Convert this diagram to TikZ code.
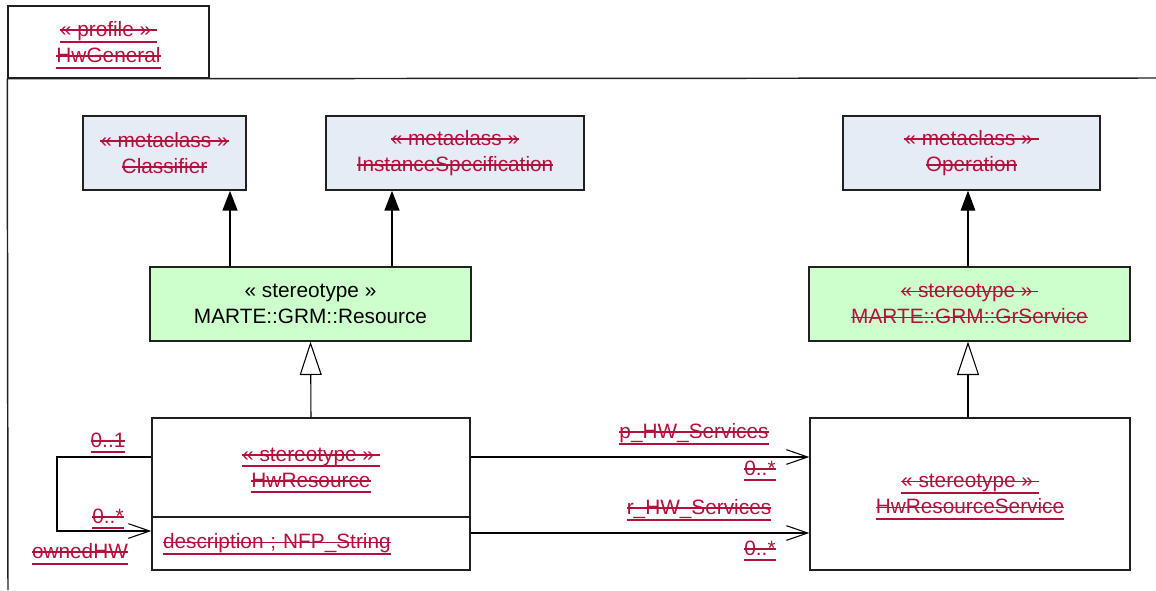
\documentclass[tikz,border=0pt]{standalone}
\usepackage{fontspec}
\setmainfont{Liberation Sans}
\usepackage{tikz}
\usetikzlibrary{arrows.meta}
\definecolor{metafill}{HTML}{E6ECF6}
\definecolor{stereofill}{HTML}{CCFFCC}
\definecolor{strikered}{HTML}{B4103C}
\definecolor{boxstroke}{HTML}{202020}

% struck-through (and underlined) labels
\newsavebox\txtbox
\newcommand\strk[1]{\sbox\txtbox{#1}\rlap{\smash{\rule[0.27em]{\wd\txtbox}{0.07em}}}\usebox\txtbox}
\newcommand\strkul[1]{\sbox\txtbox{#1}\rlap{\smash{\rule[0.27em]{\wd\txtbox}{0.07em}}}\rlap{\smash{\rule[-0.3em]{\wd\txtbox}{0.1em}}}\usebox\txtbox}

\begin{document}
\begin{tikzpicture}[
  x=0.75pt,
  y=-0.75pt,
  every node/.style={
    rectangle,
    align=center,
    inner sep=2pt,
    font=\fontsize{15.6}{19.5}\selectfont
  },
  frameline/.style={
    draw=boxstroke,
    line width=1.1pt
  },
  metaclass/.style={
    draw=boxstroke,
    fill=metafill,
    line width=1pt,
    minimum height=55.5pt,
    text=strikered
  },
  stereo/.style={
    draw=boxstroke,
    fill=stereofill,
    line width=1pt,
    minimum width=240.75pt,
    minimum height=55.5pt
  },
  classbox/.style={
    draw=boxstroke,
    fill=white,
    line width=1pt,
    minimum width=238.5pt,
    text=strikered
  },
  rolelabel/.style={
    text=strikered
  },
  extension/.style={
    -{Triangle[length=15pt,width=11pt]},
    draw=black,
    line width=2pt
  },
  extensionthin/.style={
    -{Triangle[length=15pt,width=11pt]},
    draw=black,
    line width=0.8pt
  },
  generalization/.style={
    -{Triangle[open,length=25pt,width=16.5pt,fill=white]},
    draw=black,
    line width=0.8pt
  },
  assoc/.style={
    -{Straight Barb[length=16pt,width=11pt]},
    draw=black,
    line width=0.8pt
  }
]

\useasboundingbox (0,0) rectangle (1156,590);

% Profile frame
\node[frameline, minimum width=150.75pt, minimum height=54pt, text=strikered] (tab) at (108.5,42)
  {\strkul{« profile »\ }\\\strkul{HwGeneral}};
\coordinate (frameright) at (1156,78);
\coordinate (framebottom) at (8,590);
\draw[frameline] (tab.south west) -- (frameright);
\draw[frameline] (tab.south west) -- (framebottom);

% Metaclasses
\node[metaclass, minimum width=122.25pt] (classifier) at (164.5,153) {\strk{« metaclass »}\\\strk{Classifier}};
\node[metaclass, minimum width=193.5pt]  (instspec)   at (455,153)   {\strk{« metaclass »}\\\strk{InstanceSpecification}};
\node[metaclass, minimum width=192.75pt] (operation)  at (971.5,153) {\strk{« metaclass »\ }\\\strk{Operation}};

% Imported stereotypes
\node[stereo] (resource)  at (310.5,304) {« stereotype »\\MARTE::GRM::Resource};
\node[stereo, text=strikered] (grservice) at (969.5,304) {\strk{« stereotype »\ }\\\strk{MARTE::GRM::GrService}};

% Stereotypes of the profile
\node[classbox, minimum height=74.25pt] (hwres) at (311,467.5) {\strkul{« stereotype »\ }\\\strkul{HwResource}};
\node[classbox, minimum height=39.75pt, text width=222pt, align=left, inner xsep=8.25pt] (hwattr) at (311,543.5)
  {\strkul{description ; NFP\_String}\\[2pt]};
\node[classbox, minimum width=240pt, minimum height=114pt] (hwservice) at (970,494) {\strkul{« stereotype »\ }\\\strkul{HwResourceService}};

% Extensions
\coordinate (clsx) at (230,0);
\coordinate (instx) at (392,0);
\coordinate (opx) at (968,0);
\draw[extension] (resource.north -| clsx) -- (classifier.south -| clsx);
\draw[extension] (resource.north -| instx) -- (instspec.south -| instx);
\draw[extensionthin] (grservice.north -| opx) -- (operation.south -| opx);

% Generalizations
\draw[generalization] (hwres.north) -- (resource.south);
\draw[generalization] (hwservice.north -| opx) -- (grservice.south -| opx);

% Associations
\coordinate (ptrack) at (0,457);
\coordinate (rtrack) at (0,533);
\coordinate (selftop) at (57,457);
\coordinate (selfbot) at (57,531);
\draw[assoc] (hwres.east |- ptrack) -- (hwservice.west |- ptrack);
\draw[assoc] (hwattr.east |- rtrack) -- (hwservice.west |- rtrack);
\draw[assoc] (hwres.west |- selftop) -- (selftop) -- (selfbot) -- (hwattr.west |- selfbot);

% Association ends
\node[rolelabel] (ownerMult) at (108,440) {\strkul{0..1}};
\node[rolelabel] (ownedMult) at (108,516) {\strkul{0..*}};
\node[rolelabel] (ownedRole) at (80,551) {\strkul{ownedHW}};
\node[rolelabel] (pRole) at (694,433) {\strkul{p\_HW\_Services}};
\node[rolelabel] (pMult) at (760,468) {\strkul{0..*}};
\node[rolelabel] (rRole) at (699,509) {\strkul{r\_HW\_Services}};
\node[rolelabel] (rMult) at (760,548) {\strkul{0..*}};

\end{tikzpicture}
\end{document}
